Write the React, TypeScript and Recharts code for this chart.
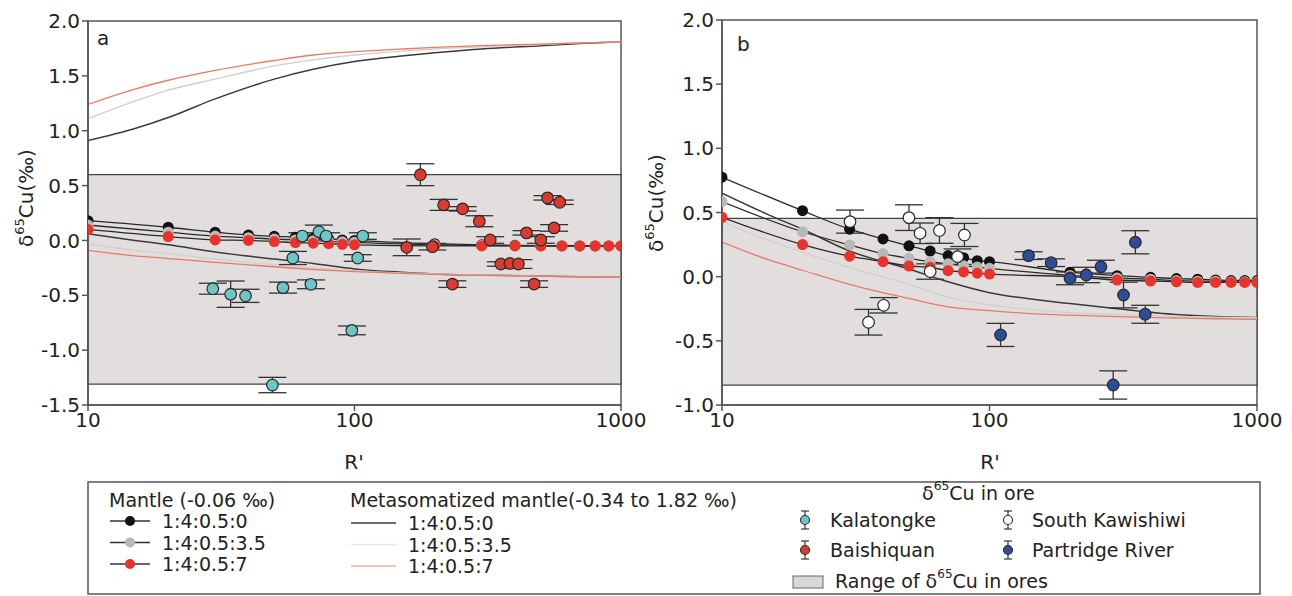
import { ComposedChart, Line, Scatter, ErrorBar, XAxis, YAxis, ReferenceArea } from "recharts";

// model grids (R')
const rModel = [10, 15, 20, 30, 50, 70, 100, 150, 200, 300, 500, 700, 1000];
const rMantle = [10, 20, 30, 40, 50, 60, 70, 80, 90, 100, 200, 300, 400, 500, 600, 700, 800, 900, 1000];

// panel a - metasomatized mantle
const aUp0 = [0.91, 1.02, 1.12, 1.29, 1.47, 1.56, 1.63, 1.68, 1.71, 1.745, 1.775, 1.795, 1.81];
const aUp35 = [1.11, 1.27, 1.37, 1.47, 1.59, 1.645, 1.69, 1.725, 1.745, 1.765, 1.785, 1.8, 1.81];
const aUp7 = [1.24, 1.38, 1.46, 1.55, 1.64, 1.69, 1.72, 1.745, 1.76, 1.775, 1.79, 1.8, 1.81];
const aLo0 = [0.06, 0.0, -0.04, -0.105, -0.17, -0.21, -0.26, -0.29, -0.305, -0.315, -0.325, -0.33, -0.335];
const aLo35 = [-0.03, -0.09, -0.12, -0.17, -0.22, -0.25, -0.275, -0.295, -0.305, -0.315, -0.325, -0.33, -0.335];
const aLo7 = [-0.09, -0.14, -0.165, -0.2, -0.24, -0.265, -0.285, -0.3, -0.31, -0.318, -0.327, -0.332, -0.335];

// panel a - mantle
const aMan0 = [0.18, 0.12, 0.075, 0.05, 0.037, 0.03, 0.02, 0.012, 0.005, 0.0, -0.03, -0.04, -0.045, -0.048, -0.05, -0.05, -0.05, -0.05, -0.05];
const aMan35 = [0.14, 0.075, 0.04, 0.025, 0.012, 0.005, -0.002, -0.008, -0.013, -0.017, -0.04, -0.045, -0.048, -0.05, -0.05, -0.05, -0.05, -0.05, -0.05];
const aMan7 = [0.1, 0.035, 0.005, 0.0, -0.01, -0.02, -0.025, -0.03, -0.035, -0.04, -0.05, -0.05, -0.05, -0.05, -0.05, -0.05, -0.05, -0.05, -0.05];

// panel b - metasomatized mantle
const bLo0 = [0.65, 0.48, 0.37, 0.2, 0.06, -0.04, -0.125, -0.18, -0.21, -0.25, -0.295, -0.31, -0.318];
const bLo35 = [0.43, 0.28, 0.19, 0.07, -0.06, -0.16, -0.22, -0.26, -0.28, -0.295, -0.31, -0.316, -0.32];
const bLo7 = [0.27, 0.13, 0.05, -0.06, -0.17, -0.235, -0.265, -0.29, -0.3, -0.312, -0.322, -0.328, -0.333];

// panel b - mantle
const bMan0 = [0.775, 0.514, 0.37, 0.294, 0.24, 0.2, 0.164, 0.148, 0.125, 0.117, 0.035, 0.008, -0.005, -0.015, -0.02, -0.025, -0.03, -0.03, -0.03];
const bMan35 = [0.585, 0.35, 0.247, 0.18, 0.143, 0.117, 0.1, 0.085, 0.075, 0.065, 0.01, -0.01, -0.02, -0.03, -0.035, -0.035, -0.04, -0.04, -0.04];
const bMan7 = [0.463, 0.25, 0.16, 0.117, 0.083, 0.073, 0.047, 0.037, 0.027, 0.02, 0.0, -0.026, -0.034, -0.04, -0.045, -0.045, -0.045, -0.045, -0.045];

// ore data
const kalR = [29.4, 34.3, 39, 49.2, 53.9, 58.7, 63.7, 68.6, 73.5, 78.3, 97.7, 102.8, 107.4];
const kalV = [-0.44, -0.49, -0.505, -1.318, -0.43, -0.16, 0.04, -0.4, 0.08, 0.04, -0.82, -0.16, 0.04];
const kalE = [0.05, 0.12, 0.06, 0.07, 0.05, 0.06, 0.03, 0.04, 0.06, 0.03, 0.04, 0.03, 0.03];

const baiR = [157, 176.7, 196, 216, 233, 254.5, 294, 323, 354, 383, 412, 442, 472, 500, 530, 561, 589];
const baiV = [-0.063, 0.599, -0.057, 0.324, -0.398, 0.288, 0.175, 0.004, -0.215, -0.21, -0.215, 0.069, -0.398, 0.004, 0.388, 0.114, 0.348];
const baiE = [0.076, 0.1, 0.03, 0.05, 0.03, 0.02, 0.05, 0.03, 0.02, 0.02, 0.04, 0.02, 0.03, 0.03, 0.02, 0.03, 0.02];

const skR = [30.1, 35.3, 40.2, 50, 55, 60, 65, 76, 80.6];
const skV = [0.429, -0.355, -0.223, 0.46, 0.338, 0.04, 0.36, 0.156, 0.325];
const skE = [0.09, 0.1, 0.06, 0.1, 0.08, 0.06, 0.1, 0.06, 0.09];

const prR = [110, 140, 170, 200, 230, 261, 290, 317, 351, 382];
const prV = [-0.454, 0.164, 0.109, -0.013, 0.013, 0.078, -0.844, -0.143, 0.268, -0.293];
const prE = [0.09, 0.03, 0.03, 0.05, 0.06, 0.05, 0.11, 0.1, 0.09, 0.07];

const xTicks = [10, 100, 1000];
const aTicks = [-1.5, -1, -0.5, 0, 0.5, 1, 1.5, 2];
const bTicks = [-1, -0.5, 0, 0.5, 1, 1.5, 2];

const pts = (rs: number[], vs: number[]) => rs.map((r, i) => ({ r, v: vs[i] }));
const ore = (rs: number[], vs: number[], es: number[]) => rs.map((r, i) => ({ r, v: vs[i], e: es[i] }));

const FONT = "'DejaVu Sans', Arial, sans-serif";
const AXIS = "#555";
const C_BLACK = "#3a3a3a";
const C_GREY = "#cfcfcf";
const C_RED = "#ea7a66";

const dotShape = (fill: string) => (p: any) => (
  <circle cx={p.cx} cy={p.cy} r={5.8} fill={fill} stroke="#2a2a2a" strokeWidth={1.2} />
);

function Panel(props: {
  left: number; width: number; margin: any; yDomain: number[]; yTicks: number[];
  range: number[]; meta: number[][]; mantle: number[][]; ores: { data: any[]; fill: string }[];
}) {
  const { margin, yDomain, yTicks, range, meta, mantle, ores } = props;
  const metaCols = [C_BLACK, C_GREY, C_RED, C_BLACK, C_GREY, C_RED];
  const manCols = ["#111", "#b8b8b8", "#e8322a"];
  return (
    <div style={{ position: "absolute", left: props.left, top: 0 }}>
      <ComposedChart width={props.width} height={480} margin={margin}>
        <XAxis type="number" dataKey="r" scale="log" domain={[10, 1000]} ticks={xTicks} allowDataOverflow
          stroke={AXIS} strokeWidth={1.5} tickSize={6}
          tick={{ fill: "#222", fontSize: 20, fontFamily: FONT }} height={40} />
        <YAxis type="number" dataKey="v" domain={yDomain} ticks={yTicks} allowDataOverflow
          tickFormatter={(v: number) => v.toFixed(1)} stroke={AXIS} strokeWidth={1.5} tickSize={6} width={60}
          tick={{ fill: "#222", fontSize: 20, fontFamily: FONT }} />
        <ReferenceArea x1={10} x2={1000} y1={yDomain[0]} y2={yDomain[1]} fill="none" stroke={AXIS} strokeWidth={1.5} />
        <ReferenceArea x1={10} x2={1000} y1={range[0]} y2={range[1]} fill="#e2dede" fillOpacity={1} stroke="#444" strokeWidth={1.3} />
        {meta.map((vs, i) => (
          <Line key={"m" + i} data={pts(rModel, vs)} dataKey="v" type="monotone" stroke={metaCols[i]}
            strokeWidth={i % 3 === 0 ? 1.5 : 1.3} dot={false} isAnimationActive={false} />
        ))}
        {mantle.map((vs, i) => (
          <Line key={"n" + i} data={pts(rMantle, vs)} dataKey="v" type="monotone" stroke="#2a2a2a"
            strokeWidth={1.3} dot={{ r: 5.5, fill: manCols[i], stroke: "none", strokeWidth: 0 }} isAnimationActive={false} />
        ))}
        {ores.map((o, i) => (
          <Scatter key={"o" + i} data={o.data} dataKey="v" shape={dotShape(o.fill)} isAnimationActive={false}>
            <ErrorBar dataKey="e" direction="y" width={14} stroke="#333" strokeWidth={1.3} />
          </Scatter>
        ))}
      </ComposedChart>
    </div>
  );
}

const Delta = ({ x, y, size, rot, text }: { x: number; y: number; size: number; rot?: boolean; text: string }) => (
  <text x={x} y={y} fontSize={size} fontFamily={FONT} fill="#222" textAnchor={rot ? "middle" : "start"}
    dominantBaseline="central" transform={rot ? `rotate(-90 ${x} ${y})` : undefined}>
    δ<tspan fontSize={size * 0.65} dy={-size * 0.35}>65</tspan><tspan dy={size * 0.35}>{text}</tspan>
  </text>
);

const T = (x: number, y: number, s: string, size = 19, anchor = "start") => (
  <text x={x} y={y} fontSize={size} fontFamily={FONT} fill="#222" dominantBaseline="central" textAnchor={anchor}>{s}</text>
);

const OreIcon = ({ x, y, fill }: { x: number; y: number; fill: string }) => (
  <g stroke="#333" strokeWidth={1.2}>
    <line x1={x} y1={y - 9} x2={x} y2={y + 9} />
    <line x1={x - 4} y1={y - 9} x2={x + 4} y2={y - 9} />
    <line x1={x - 4} y1={y + 9} x2={x + 4} y2={y + 9} />
    <circle cx={x} cy={y} r={4.5} fill={fill} />
  </g>
);

export default function App() {
  const manRows = [["#111", "1:4:0.5:0"], ["#b8b8b8", "1:4:0.5:3.5"], ["#e8322a", "1:4:0.5:7"]];
  const metaRows = [[C_BLACK, "1:4:0.5:0"], ["#e6e6e6", "1:4:0.5:3.5"], ["#e9b0a2", "1:4:0.5:7"]];
  return (
    <div style={{ position: "relative", width: 1292, height: 596, background: "#fff", overflow: "hidden" }}>
      <style>{`body{margin:0}`}</style>
      <Panel left={0} width={650} margin={{ top: 21, right: 29, left: 28, bottom: 35 }}
        yDomain={[-1.5, 2]} yTicks={aTicks} range={[-1.31, 0.6]}
        meta={[aUp0, aUp35, aUp7, aLo0, aLo35, aLo7]} mantle={[aMan0, aMan35, aMan7]}
        ores={[{ data: ore(kalR, kalV, kalE), fill: "#6cc6c6" }, { data: ore(baiR, baiV, baiE), fill: "#dc3a2e" }]} />
      <Panel left={640} width={652} margin={{ top: 20, right: 35, left: 22, bottom: 35 }}
        yDomain={[-1, 2]} yTicks={bTicks} range={[-0.845, 0.455]}
        meta={[bLo0, bLo35, bLo7]} mantle={[bMan0, bMan35, bMan7]}
        ores={[{ data: ore(skR, skV, skE), fill: "#ffffff" }, { data: ore(prR, prV, prE), fill: "#2d4c9c" }]} />
      <svg width={1292} height={596} style={{ position: "absolute", left: 0, top: 0, pointerEvents: "none" }}>
        {T(97, 38, "a", 20)}
        {T(737, 44, "b", 20)}
        <Delta x={26} y={198} size={20} rot text="Cu(‰)" />
        <Delta x={656} y={203} size={20} rot text="Cu(‰)" />
        {T(354, 462, "R'", 20, "middle")}
        {T(990, 462, "R'", 20, "middle")}
        <rect x={88} y={482} width={1172} height={112} fill="none" stroke="#555" strokeWidth={1.5} />
        {T(109, 500, "Mantle (-0.06 ‰)")}
        {manRows.map(([c, s], i) => (
          <g key={s}>
            <line x1={110} x2={150} y1={521 + i * 21.5} y2={521 + i * 21.5} stroke="#333" strokeWidth={1.3} />
            <circle cx={130} cy={521 + i * 21.5} r={5} fill={c} />
            {T(162, 521 + i * 21.5, s)}
          </g>
        ))}
        {T(350, 500, "Metasomatized mantle(-0.34 to 1.82 ‰)")}
        {metaRows.map(([c, s], i) => (
          <g key={"r" + s}>
            <line x1={351} x2={396} y1={523 + i * 21.5} y2={523 + i * 21.5} stroke={c} strokeWidth={1.5} />
            {T(408, 523 + i * 21.5, s)}
          </g>
        ))}
        <Delta x={922} y={493} size={19} text="Cu in ore" />
        <OreIcon x={805} y={520} fill="#6cc6c6" />
        {T(830, 520, "Kalatongke")}
        <OreIcon x={1008} y={520} fill="#ffffff" />
        {T(1032, 520, "South Kawishiwi")}
        <OreIcon x={805} y={550} fill="#dc3a2e" />
        {T(830, 550, "Baishiquan")}
        <OreIcon x={1008} y={550} fill="#2d4c9c" />
        {T(1032, 550, "Partridge River")}
        <rect x={793} y={576} width={30} height={12} fill="#dcd8d8" stroke="#666" strokeWidth={1} />
        <text x={835} y={581} fontSize={19} fontFamily={FONT} fill="#222" dominantBaseline="central">
          Range of δ<tspan fontSize={12} dy={-7}>65</tspan><tspan dy={7}>Cu in ores</tspan>
        </text>
      </svg>
    </div>
  );
}
